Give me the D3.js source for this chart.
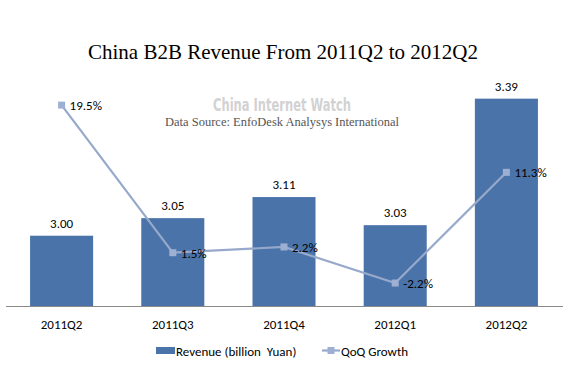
<!DOCTYPE html>
<html>
<head>
<meta charset="utf-8">
<script src="https://cdn.jsdelivr.net/npm/d3@7"></script>
<style>
  html, body { margin: 0; padding: 0; background: #fff; }
  svg { display: block; }
  text { white-space: pre; }
</style>
</head>
<body>
<svg id="chart" width="572" height="371"></svg>
<script>
const categories = ["2011Q2", "2011Q3", "2011Q4", "2012Q1", "2012Q2"];
const revenue = [3.00, 3.05, 3.11, 3.03, 3.39];
const revenueLabels = ["3.00", "3.05", "3.11", "3.03", "3.39"];
const growth = [19.5, 1.5, 2.2, -2.2, 11.3];
const growthLabels = ["19.5%", "1.5%", "2.2%", "-2.2%", "11.3%"];
const seriesNames = ["Revenue (billion  Yuan)", "QoQ Growth"];
const titleText = "China B2B Revenue From 2011Q2 to 2012Q2";
const watermarkText = "China Internet Watch";
const sourceText = "Data Source: EnfoDesk Analysys International";

const barColor = "#4A74A9";
const lineColor = "#97A9CB";
const markerColor = "#9DAFD2";
const labelFont = "Carlito, Lato, 'Liberation Sans', sans-serif";

const svg = d3.select("#chart");

const x = d3.scaleBand().domain(categories).range([6, 562])
  .paddingInner(0.433).paddingOuter(0.2165);
const yL = d3.scaleLinear().domain([2.8, 3.5]).range([306, 60]);
const yR = d3.scaleLinear().domain([-5, 25]).range([306, 60]);

// Title
svg.append("text").attr("x", 283).attr("y", 59).attr("text-anchor", "middle")
  .style("font-family", "'Liberation Serif', 'Times New Roman', serif")
  .style("font-size", "21px").attr("fill", "#000").text(titleText);

// watermark + source
svg.append("text").attr("x", 282).attr("y", 111).attr("text-anchor", "middle")
  .style("font-family", "'Liberation Sans Narrow', 'DejaVu Sans Condensed', sans-serif")
  .style("font-weight", "bold").style("font-size", "18px").attr("fill", "#d2d2d2")
  .attr("textLength", 138).attr("lengthAdjust", "spacingAndGlyphs")
  .text(watermarkText);
svg.append("text").attr("x", 282).attr("y", 126).attr("text-anchor", "middle")
  .style("font-family", "'Liberation Serif', 'Times New Roman', serif")
  .style("font-size", "12.5px").attr("fill", "#555")
  .text(sourceText);

// Bars
const data = categories.map((c, i) => ({ c, v: revenue[i], vl: revenueLabels[i], g: growth[i], gl: growthLabels[i] }));

svg.append("g").selectAll("rect").data(data).join("rect")
  .attr("x", d => x(d.c)).attr("width", x.bandwidth())
  .attr("y", d => yL(d.v)).attr("height", d => yL(2.8) - yL(d.v))
  .attr("fill", barColor);

svg.append("g").selectAll("text").data(data).join("text")
  .attr("x", d => x(d.c) + x.bandwidth() / 2).attr("y", d => yL(d.v) - 8)
  .attr("text-anchor", "middle").style("font-family", labelFont).style("font-size", "13px")
  .attr("fill", "#000").text(d => d.vl);

// Axis
const axis = svg.append("g").attr("transform", "translate(0,306)")
  .call(d3.axisBottom(x).tickSize(0).tickSizeOuter(0).tickPadding(14));
axis.select(".domain").attr("stroke", "#8a8a8a").attr("d", "M6,0.5H563");
axis.selectAll("text").style("font-family", labelFont).style("font-size", "13px").attr("fill", "#000");

// Line
const cx = d => x(d.c) + x.bandwidth() / 2;
svg.append("path").datum(data)
  .attr("d", d3.line().x(cx).y(d => yR(d.g)))
  .attr("fill", "none").attr("stroke", lineColor).attr("stroke-width", 2.2);
svg.append("g").selectAll("rect").data(data).join("rect")
  .attr("x", d => cx(d) - 3.5).attr("y", d => yR(d.g) - 3.5)
  .attr("width", 7).attr("height", 7).attr("fill", markerColor);
svg.append("g").selectAll("text").data(data).join("text")
  .attr("x", d => cx(d) + 8).attr("y", d => yR(d.g) + 5)
  .style("font-family", labelFont).style("font-size", "13px")
  .attr("fill", "#000").text(d => d.gl);

// Legend
const lg = svg.append("g");
lg.append("rect").attr("x", 156).attr("y", 347).attr("width", 19).attr("height", 7).attr("fill", barColor);
lg.append("text").attr("x", 176).attr("y", 355.5).style("font-family", labelFont).style("font-size", "13px")
  .attr("fill", "#000").text(seriesNames[0]);
lg.append("line").attr("x1", 322).attr("x2", 340).attr("y1", 350.5).attr("y2", 350.5)
  .attr("stroke", lineColor).attr("stroke-width", 2.2);
lg.append("rect").attr("x", 327.5).attr("y", 347).attr("width", 7).attr("height", 7).attr("fill", markerColor);
lg.append("text").attr("x", 341).attr("y", 355.5).style("font-family", labelFont).style("font-size", "13px")
  .attr("fill", "#000").text(seriesNames[1]);
</script>
</body>
</html>
